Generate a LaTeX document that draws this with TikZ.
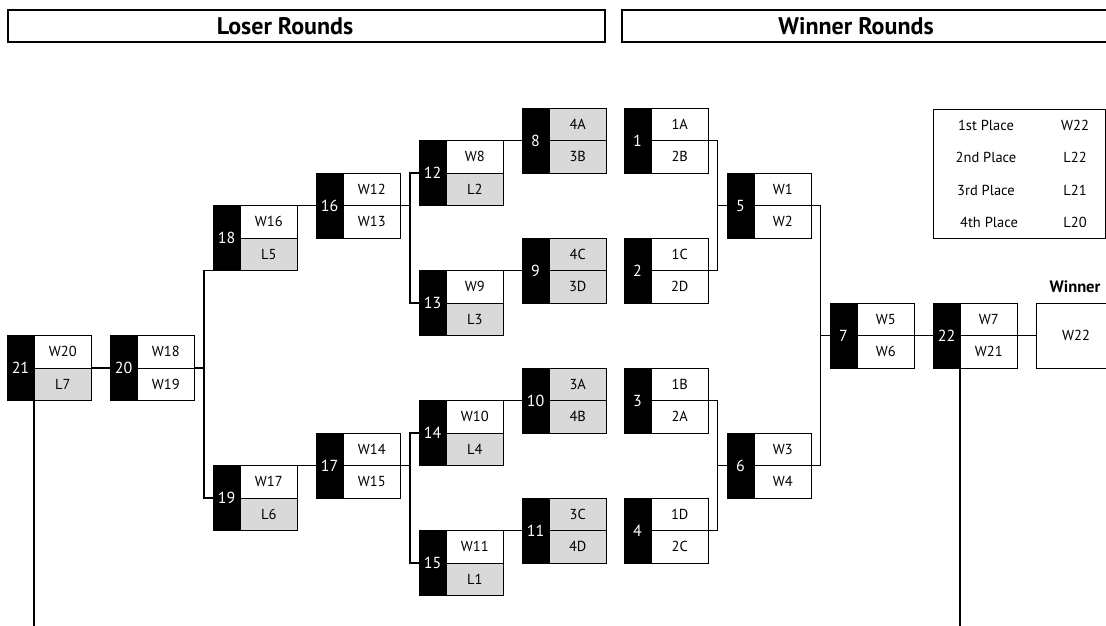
\documentclass[tikz,border=0pt]{standalone}
\usepackage{fontspec}
\setmainfont{PT Sans}
\usetikzlibrary{calc}
\definecolor{cellgray}{HTML}{D9D9D9}
\tikzset{
  numbox/.style={fill=black, draw=black, line width=0.9, text=white, minimum width=27, minimum height=65,
    inner sep=0, outer sep=0, anchor=north west, font=\fontsize{16}{18}\selectfont},
  cellbox/.style={draw=black, line width=0.9, minimum width=57.5, minimum height=32.5,
    inner sep=0, outer sep=0, anchor=north west, font=\fontsize{14.5}{16}\selectfont},
  hdrbox/.style={draw=black, line width=1.2, minimum height=32, inner sep=0, outer sep=0, anchor=north west},
  hdrtext/.style={font=\fontsize{24}{28}\selectfont\bfseries, inner sep=0},
  smalltext/.style={font=\fontsize{14.5}{16}\selectfont, inner sep=0},
  conn/.style={line width=1.1},
  tail/.style={line width=1.8},
}
\newcommand\bmatch[8]{%
  \node[numbox] (#1) at (#2,#3) {#4};
  \node[cellbox, fill=#6] (#1a) at (#1.north east) {#5};
  \node[cellbox, fill=#8] (#1b) at (#1a.south west) {#7};
}
\begin{document}
\begin{tikzpicture}[x=1pt,y=-1pt]
\useasboundingbox (0,0) rectangle (1106,625);
\coordinate (bot) at (0,626);

% headers
\node[hdrbox, minimum width=597] (hL) at (8,10) {};
\node[hdrtext] (hLt) at (285,26) {Loser Rounds};
\node[hdrbox, minimum width=500] (hR) at (622,10) {};
\node[hdrtext] (hRt) at (856,26) {Winner Rounds};

% winner rounds
\bmatch{m1}{624}{108}{1}{1A}{white}{2B}{white}
\bmatch{m2}{624}{238}{2}{1C}{white}{2D}{white}
\bmatch{m3}{624}{368}{3}{1B}{white}{2A}{white}
\bmatch{m4}{624}{498}{4}{1D}{white}{2C}{white}
\bmatch{m5}{727}{173}{5}{W1}{white}{W2}{white}
\bmatch{m6}{727}{433}{6}{W3}{white}{W4}{white}
\bmatch{m7}{830}{303}{7}{W5}{white}{W6}{white}
\bmatch{m22}{933}{303}{22}{W7}{white}{W21}{white}
\node[cellbox, minimum width=80, minimum height=65] (win) at (1036,303) {W22};
\node[font=\fontsize{16.5}{18}\selectfont\bfseries, inner sep=0] (winlbl) at (1075,287) {Winner};

% loser rounds
\bmatch{m8}{522}{108}{8}{4A}{cellgray}{3B}{cellgray}
\bmatch{m9}{522}{238}{9}{4C}{cellgray}{3D}{cellgray}
\bmatch{m10}{522}{368}{10}{3A}{cellgray}{4B}{cellgray}
\bmatch{m11}{522}{498}{11}{3C}{cellgray}{4D}{cellgray}
\bmatch{m12}{419}{140.5}{12}{W8}{white}{L2}{cellgray}
\bmatch{m13}{419}{270.5}{13}{W9}{white}{L3}{cellgray}
\bmatch{m14}{419}{400.5}{14}{W10}{white}{L4}{cellgray}
\bmatch{m15}{419}{530.5}{15}{W11}{white}{L1}{cellgray}
\bmatch{m16}{316}{173}{16}{W12}{white}{W13}{white}
\bmatch{m17}{316}{433}{17}{W14}{white}{W15}{white}
\bmatch{m18}{213}{205.5}{18}{W16}{white}{L5}{cellgray}
\bmatch{m19}{213}{465.5}{19}{W17}{white}{L6}{cellgray}
\bmatch{m20}{110}{335.5}{20}{W18}{white}{W19}{white}
\bmatch{m21}{7}{335.5}{21}{W20}{white}{L7}{cellgray}

% places table
\node[draw=black, line width=1, minimum width=172, minimum height=129, inner sep=0, outer sep=0, anchor=north west] (places) at (933,109) {};
\node[smalltext] (p1) at (986,125) {1st Place};
\node[smalltext] (p2) at (986,157.5) {2nd Place};
\node[smalltext] (p3) at (986,190) {3rd Place};
\node[smalltext] (p4) at (989,222) {4th Place};
\node[smalltext] (r1) at (1075,125) {W22};
\node[smalltext] (r2) at (1075,157.5) {L22};
\node[smalltext] (r3) at (1075,190) {L21};
\node[smalltext] (r4) at (1075,222) {L20};

% winner connectors
\draw[conn] (m1a.south east) -- ++(9,0) coordinate (j1) |- (m2a.south east);
\draw[conn] (m5.west) -- (j1 |- m5.west);
\draw[conn] (m3a.south east) -- ++(9,0) coordinate (j2) |- (m4a.south east);
\draw[conn] (m6.west) -- (j2 |- m6.west);
\draw[conn] (m5a.south east) -- ++(9,0) coordinate (j3) |- (m6a.south east);
\draw[conn] (m7.west) -- (j3 |- m7.west);
\draw[conn] (m7a.south east) -- (m22.west);
\draw[conn] (m22a.south east) -- (win.west);
\draw[tail] (m22.south east) -- (m22.south east |- bot);

% loser connectors
\draw[conn] (m8.west) -- (m12a.north east);
\draw[conn] (m9.west) -- (m13a.north east);
\draw[conn] (m10.west) -- (m14a.north east);
\draw[conn] (m11.west) -- (m15a.north east);
\draw[conn] (m12.west) -- ++(-9,0) coordinate (k1) |- (m13.west);
\draw[conn] (m16a.south east) -- (k1 |- m16a.south east);
\draw[conn] (m14.west) -- ++(-9,0) coordinate (k2) |- (m15.west);
\draw[conn] (m17a.south east) -- (k2 |- m17a.south east);
\draw[conn] (m16.west) -- (m18a.north east);
\draw[conn] (m17.west) -- (m19a.north east);
\draw[conn] (m18.south west) -- ++(-9,0) coordinate (k3) |- (m19.west);
\draw[conn] (m20a.south east) -- (k3 |- m20a.south east);
\draw[conn] (m20.west) -- (m21a.south east);
\draw[tail] (m21.south east) -- (m21.south east |- bot);
\end{tikzpicture}
\end{document}
